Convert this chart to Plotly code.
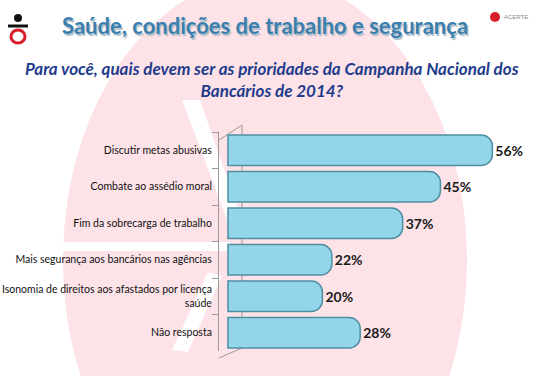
import plotly.graph_objects as go

categories = [
    "Discutir metas abusivas",
    "Combate ao assédio moral",
    "Fim da sobrecarga de trabalho",
    "Mais segurança aos bancários nas agências",
    "Isonomia de direitos aos afastados por licença<br>saúde",
    "Não resposta",
]
values = [56, 45, 37, 22, 20, 28]
value_labels = ["56%", "45%", "37%", "22%", "20%", "28%"]

title_text = "Saúde, condições de trabalho e segurança"
subtitle_text = "Para você, quais devem ser as prioridades da Campanha Nacional dos<br>Bancários de 2014?"

W, H = 541, 376
pl, pr, pt, pb = 219, 0, 132, 25
pw, ph = W - pl - pr, H - pt - pb


def px(x):
    return (x - pl) / pw


def py(y):
    return (H - pb - y) / ph


fig = go.Figure()
fig.add_trace(go.Bar(
    y=categories,
    x=values,
    orientation="h",
    width=0.83,
    marker=dict(color="#94d6e9", line=dict(color="#4f8ea2", width=1.5), cornerradius=11),
    text=value_labels,
    textposition="outside",
    textfont=dict(family="Lato", size=14, color="#1a1a1a", weight="bold"),
    cliponaxis=False,
    hoverinfo="skip",
))

grey = "#9a9a9a"
fig.update_layout(
    width=W, height=H,
    margin=dict(l=pl, r=pr, t=pt, b=pb, autoexpand=False),
    paper_bgcolor="white",
    plot_bgcolor="rgba(0,0,0,0)",
    showlegend=False,
    font=dict(family="Lato", color="#1a1a1a"),
    xaxis=dict(range=[-1.9, 66.3], visible=False, fixedrange=True),
    yaxis=dict(
        autorange="reversed", automargin=False,
        showline=True, linecolor=grey, linewidth=1,
        ticks="outside", tickson="boundaries", ticklen=6, tickcolor=grey,
        tickfont=dict(family="Lato", size=10.5, color="#111111"),
        showgrid=False, zeroline=False, fixedrange=True,
        ticklabelstandoff=4,
    ),
    shapes=[
        # pink watermark (ellipse)
        dict(type="circle", xref="paper", yref="paper", layer="below",
             x0=px(63), x1=px(467), y0=py(543), y1=py(-23),
             fillcolor="#fde3e7", line=dict(width=0)),
        # white arrow stripes of the watermark
        dict(type="path", xref="paper", yref="paper", layer="below",
             path=f"M {px(182)} {py(100)} L {px(200)} {py(100)} L {px(240)} {py(215)} L {px(228)} {py(222)} Z",
             fillcolor="white", line=dict(width=0)),
        dict(type="path", xref="paper", yref="paper", layer="below",
             path=f"M {px(60)} {py(242)} L {px(230)} {py(242)} L {px(230)} {py(251)} L {px(60)} {py(251)} Z",
             fillcolor="white", line=dict(width=0)),
        dict(type="path", xref="paper", yref="paper", layer="below",
             path=f"M {px(172)} {py(350)} L {px(208)} {py(272)} L {px(222)} {py(276)} L {px(188)} {py(352)} Z",
             fillcolor="white", line=dict(width=0)),
        # 3D wall edges
        dict(type="line", xref="paper", yref="paper", layer="below",
             x0=px(242), x1=px(242), y0=py(125), y1=py(348), line=dict(color=grey, width=1)),
        dict(type="line", xref="paper", yref="paper", layer="below",
             x0=px(219), x1=px(242), y0=py(140), y1=py(125), line=dict(color=grey, width=1)),
        dict(type="line", xref="paper", yref="paper", layer="below",
             x0=px(219), x1=px(242), y0=py(358), y1=py(348), line=dict(color=grey, width=1)),
        # left logo (stylized)
        dict(type="circle", xref="paper", yref="paper",
             x0=px(14), x1=px(22), y0=py(22), y1=py(14), fillcolor="#111111", line=dict(width=0)),
        dict(type="circle", xref="paper", yref="paper",
             x0=px(11), x1=px(25), y0=py(43), y1=py(30), fillcolor="white", line=dict(color="#d81e2a", width=3)),
        dict(type="line", xref="paper", yref="paper",
             x0=px(8), x1=px(28), y0=py(26), y1=py(26), line=dict(color="#111111", width=3)),
        # right logo
        dict(type="circle", xref="paper", yref="paper",
             x0=px(490), x1=px(500), y0=py(22), y1=py(12), fillcolor="#d81e2a", line=dict(width=0)),
    ],
    annotations=[
        dict(text="<b>" + title_text + "</b>", xref="paper", yref="paper",
             x=px(265), y=py(25), showarrow=False, xanchor="center", yanchor="middle",
             font=dict(family="Lato", size=22, color="#3b7fae",
                       shadow="1.5px 1.5px 1px #aebdc8")),
        dict(text="<b><i>" + subtitle_text + "</i></b>", xref="paper", yref="paper",
             x=px(272), y=py(79), showarrow=False, xanchor="center", yanchor="middle",
             align="center",
             font=dict(family="Lato", size=17, color="#1f3c8c")),
        dict(text="ACERTE", xref="paper", yref="paper",
             x=px(502), y=py(17), showarrow=False, xanchor="left", yanchor="middle",
             font=dict(family="Liberation Sans", size=6, color="#888888")),
    ],
)

fig.write_html("out.html", config={"displayModeBar": False, "staticPlot": True},
               post_script="document.body.style.margin='0';")
